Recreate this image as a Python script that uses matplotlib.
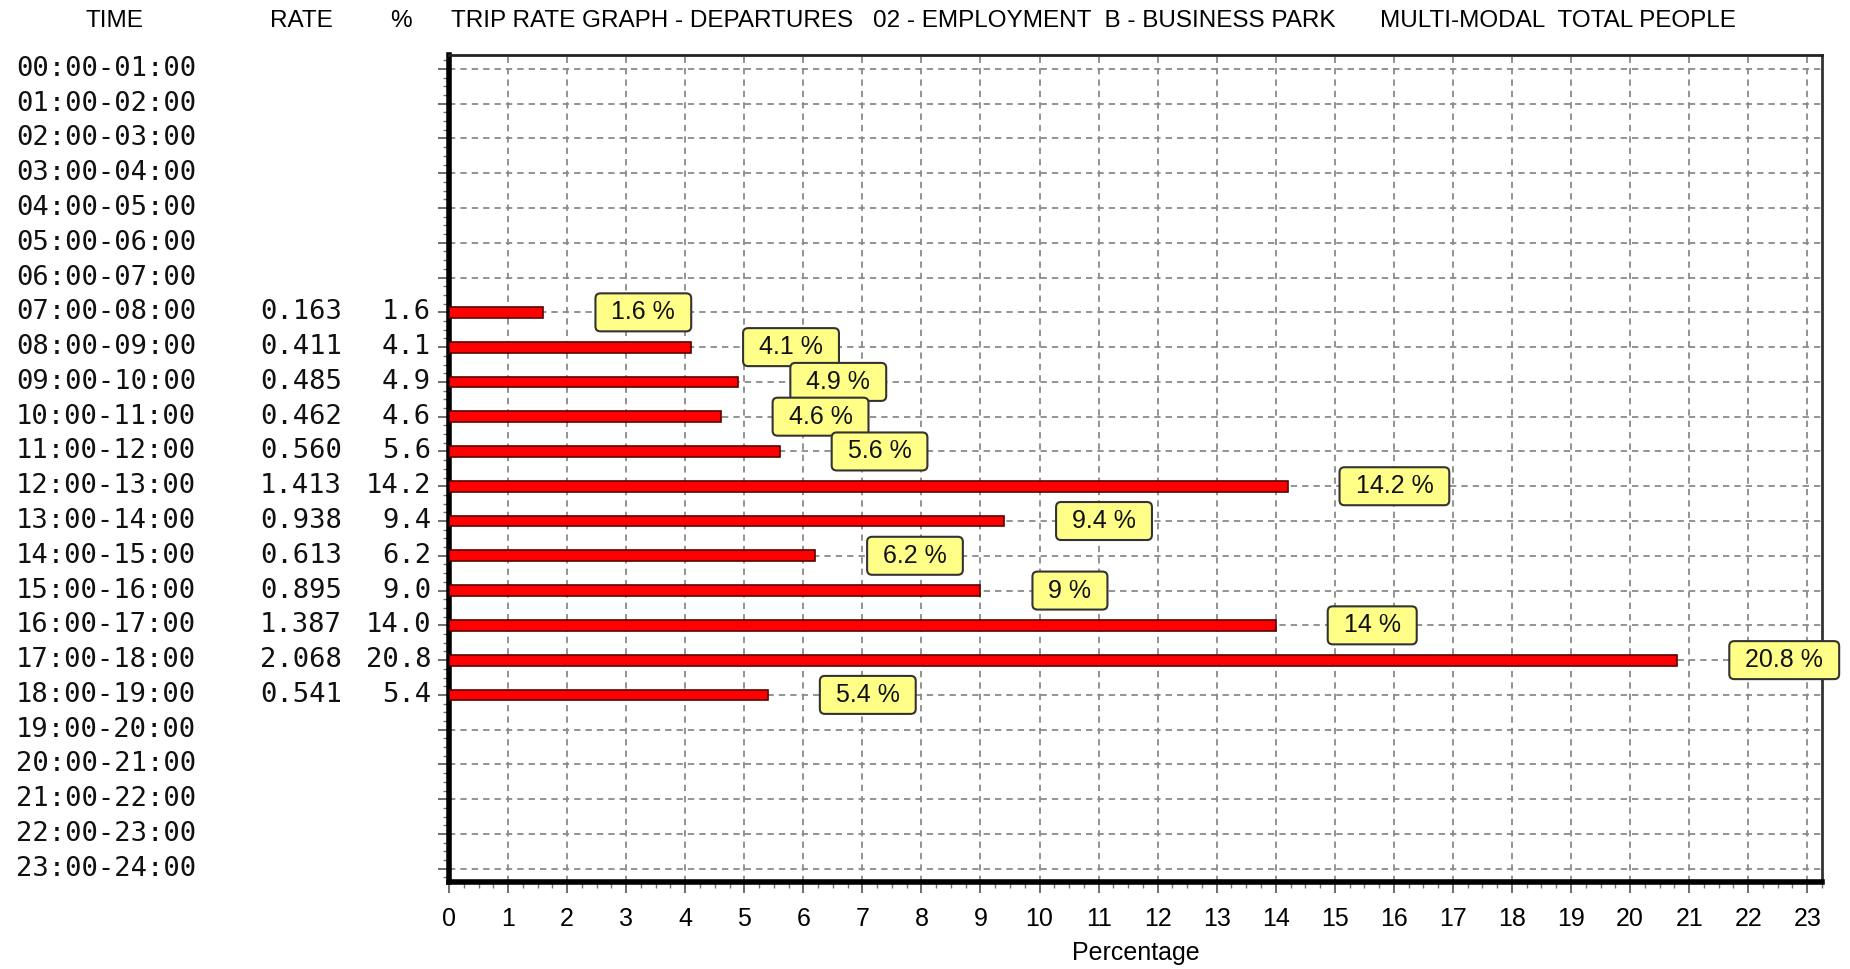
import matplotlib
matplotlib.use("Agg")
import matplotlib.pyplot as plt
import matplotlib.ticker as mt
from matplotlib.patches import FancyBboxPatch
from matplotlib.transforms import blended_transform_factory, IdentityTransform

# ---------------- data ----------------
time_slots = ["00:00-01:00", "01:00-02:00", "02:00-03:00", "03:00-04:00",
              "04:00-05:00", "05:00-06:00", "06:00-07:00", "07:00-08:00",
              "08:00-09:00", "09:00-10:00", "10:00-11:00", "11:00-12:00",
              "12:00-13:00", "13:00-14:00", "14:00-15:00", "15:00-16:00",
              "16:00-17:00", "17:00-18:00", "18:00-19:00", "19:00-20:00",
              "20:00-21:00", "21:00-22:00", "22:00-23:00", "23:00-24:00"]
rates = [None, None, None, None, None, None, None,
         0.163, 0.411, 0.485, 0.462, 0.560, 1.413, 0.938, 0.613, 0.895,
         1.387, 2.068, 0.541,
         None, None, None, None, None]
percents = [None, None, None, None, None, None, None,
            1.6, 4.1, 4.9, 4.6, 5.6, 14.2, 9.4, 6.2, 9.0, 14.0, 20.8, 5.4,
            None, None, None, None, None]
x_ticks = list(range(0, 24))
title_parts = ["TRIP RATE GRAPH - DEPARTURES",
               "02 - EMPLOYMENT  B - BUSINESS PARK",
               "MULTI-MODAL  TOTAL PEOPLE"]
x_label = "Percentage"

# ---------------- figure ----------------
W, H = 1850, 969
fig = plt.figure(figsize=(W / 100, H / 100), dpi=100)
fig.patch.set_facecolor("white")
ax = fig.add_axes([449 / W, 1 - 882 / H, (1822 - 449) / W, (882 - 55) / H])

sans = ["Liberation Sans", "DejaVu Sans"]
mono = ["DejaVu Sans Mono"]

idx = [i for i, p in enumerate(percents) if p is not None]
vals = [percents[i] for i in idx]
ax.barh(idx, vals, height=0.31, color="#FF0000", edgecolor="#5a0000",
        linewidth=1.2, zorder=3)

ax.set_xlim(0, 23.25)
ax.set_ylim(23.38, -0.4)
ax.set_xticks(x_ticks)
ax.set_xticklabels([str(t) for t in x_ticks], family=sans, fontsize=18)
ax.xaxis.set_minor_locator(mt.MultipleLocator(0.25))
ax.set_yticks(range(len(time_slots)))
ax.set_yticklabels([])
ax.yaxis.set_minor_locator(mt.MultipleLocator(0.25))
ax.tick_params(axis="both", which="major", direction="out", length=8,
               width=1.2, color="#555555", pad=10)
ax.tick_params(axis="both", which="minor", direction="out", length=4,
               width=1.0, color="#777777")
ax.grid(True, which="major", color="#8a8a8a", linestyle=(0, (3.5, 2.8)),
        linewidth=1.3, zorder=1)
ax.set_axisbelow(True)

for side, lw, col in [("left", 4.0, "black"), ("bottom", 4.0, "black"),
                      ("top", 2.0, "#222222"), ("right", 2.0, "#333333")]:
    ax.spines[side].set_linewidth(lw)
    ax.spines[side].set_color(col)

ax.set_xlabel(x_label, family=sans, fontsize=18, labelpad=7)

# ---------------- left table ----------------
tr = blended_transform_factory(fig.transFigure, ax.transData)
for i, t in enumerate(time_slots):
    ax.text(16 / W, i, t, transform=tr, ha="left", va="center",
            family=mono, fontsize=19.5, color="#111111", clip_on=False)
    if rates[i] is not None:
        ax.text(342 / W, i, f"{rates[i]:.3f}", transform=tr, ha="right",
                va="center", family=mono, fontsize=19.5, color="#111111",
                clip_on=False)
        ax.text(431 / W, i, f"{percents[i]:.1f}", transform=tr, ha="right",
                va="center", family=mono, fontsize=19.5, color="#111111",
                clip_on=False)

# ---------------- header ----------------
hy = 1 - 21 / H
fig.text(114 / W, hy, "TIME", ha="center", va="center", family=sans, fontsize=17.5)
fig.text(301 / W, hy, "RATE", ha="center", va="center", family=sans, fontsize=17.5)
fig.text(401 / W, hy, "%", ha="center", va="center", family=sans, fontsize=17.5)
for xp, part in zip([451, 873, 1380], title_parts):
    fig.text(xp / W, hy, part, ha="left", va="center", family=sans, fontsize=17.5)

# ---------------- value labels ----------------
padx = 16
texts = []
for i, p in zip(idx, vals):
    t = ax.annotate(f"{p:g} %", xy=(p + 0.88, i), xytext=(padx, 0),
                    textcoords="offset pixels", ha="left", va="center",
                    family=sans, fontsize=18,
                    color="#111111", zorder=6, annotation_clip=False)
    texts.append((t, i))

fig.canvas.draw()
rend = fig.canvas.get_renderer()
for t, i in texts:
    bb = t.get_window_extent(rend)
    yc = ax.transData.transform((0, i))[1]
    bh = 38
    patch = FancyBboxPatch((bb.x0 - padx, yc - bh / 2), bb.width + 2 * padx, bh,
                           boxstyle="round,pad=0,rounding_size=5",
                           facecolor="#FFFF88", edgecolor="#333333",
                           linewidth=1.5, transform=IdentityTransform(),
                           zorder=5)
    ax.add_artist(patch)
    patch.set_clip_on(False)

fig.savefig("out.png", dpi=100, facecolor="white")
